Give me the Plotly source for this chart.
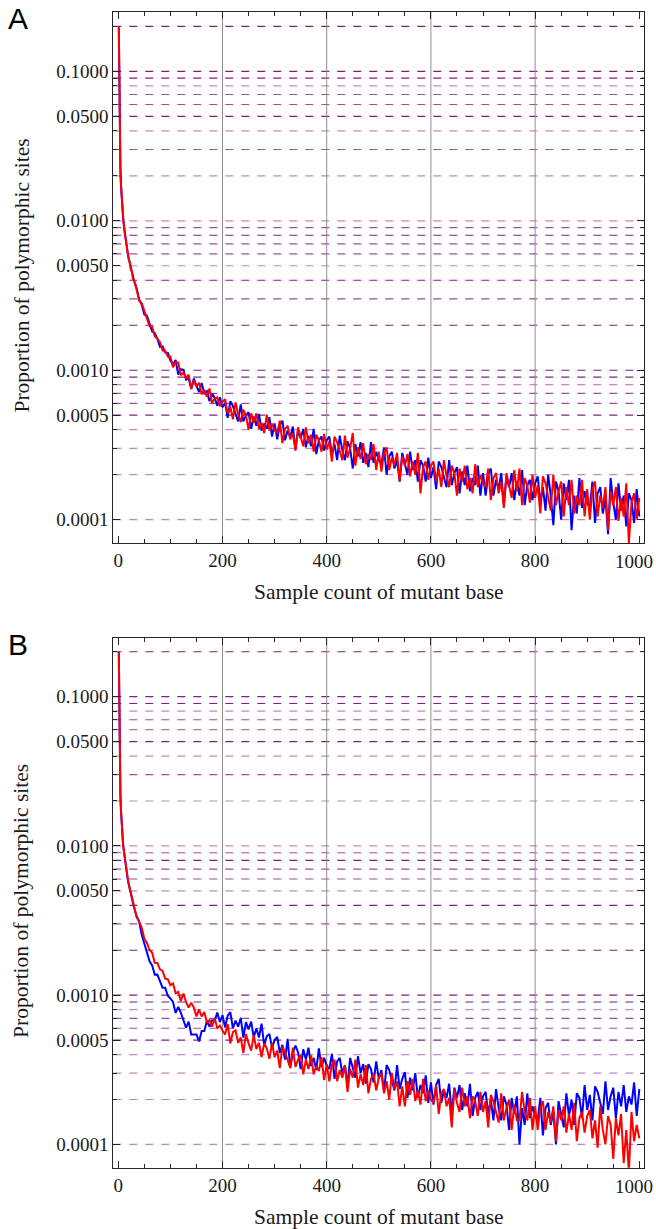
import plotly.graph_objects as go

# ---------------- data ----------------
sample_counts = list(range(1, 11)) + list(range(12, 31, 2)) + list(range(35, 1001, 5))

a_blue = [0.195, 0.052, 0.031, 0.0225, 0.0178, 0.0148, 0.0129, 0.0116, 0.0106, 0.0098,
          0.0085, 0.0075, 0.0067, 0.0061, 0.0056, 0.0052, 0.0048, 0.0045, 0.0042, 0.0040,
          3550e-6, 2980e-6, 2745e-6, 2360e-6, 2315e-6, 2020e-6, 1815e-6, 1775e-6, 1620e-6, 1435e-6, 1445e-6, 1315e-6, 1305e-6, 1160e-6,
          1090e-6, 1170e-6, 935e-6, 1015e-6, 1005e-6, 865e-6, 885e-6, 750e-6, 880e-6, 785e-6, 715e-6, 820e-6, 700e-6, 725e-6, 620e-6, 695e-6, 655e-6, 580e-6, 660e-6, 565e-6,
          605e-6, 480e-6, 620e-6, 575e-6, 510e-6, 455e-6, 590e-6, 455e-6, 500e-6, 525e-6, 405e-6, 490e-6, 425e-6, 510e-6, 395e-6, 440e-6, 405e-6, 485e-6, 360e-6, 440e-6,
          345e-6, 430e-6, 460e-6, 340e-6, 395e-6, 355e-6, 420e-6, 295e-6, 395e-6, 350e-6, 405e-6, 305e-6, 365e-6, 310e-6, 405e-6, 275e-6, 340e-6, 360e-6, 290e-6, 340e-6,
          360e-6, 275e-6, 320e-6, 250e-6, 365e-6, 290e-6, 250e-6, 335e-6, 300e-6, 220e-6, 320e-6, 265e-6, 330e-6, 240e-6, 280e-6, 225e-6, 330e-6, 240e-6, 285e-6, 250e-6,
          235e-6, 305e-6, 200e-6, 265e-6, 285e-6, 220e-6, 250e-6, 180e-6, 280e-6, 230e-6, 200e-6, 285e-6, 215e-6, 250e-6, 180e-6, 250e-6, 230e-6, 180e-6, 260e-6, 190e-6,
          225e-6, 160e-6, 245e-6, 225e-6, 195e-6, 165e-6, 250e-6, 170e-6, 205e-6, 225e-6, 150e-6, 210e-6, 170e-6, 230e-6, 155e-6, 190e-6, 170e-6, 230e-6, 145e-6, 205e-6,
          145e-6, 200e-6, 220e-6, 145e-6, 185e-6, 160e-6, 205e-6, 125e-6, 195e-6, 165e-6, 205e-6, 135e-6, 180e-6, 145e-6, 215e-6, 125e-6, 170e-6, 185e-6, 135e-6, 175e-6,
          195e-6, 130e-6, 165e-6, 115e-6, 200e-6, 145e-6, 92e-6, 180e-6, 155e-6, 100e-6, 175e-6, 135e-6, 185e-6, 85e-6, 145e-6, 110e-6, 190e-6, 120e-6, 155e-6, 130e-6,
          120e-6, 180e-6, 95e-6, 150e-6, 165e-6, 110e-6, 140e-6, 80e-6, 190e-6, 130e-6, 100e-6, 175e-6, 115e-6, 145e-6, 90e-6, 150e-6, 135e-6, 95e-6, 160e-6, 105e-6]

a_red = [0.198, 0.051, 0.0305, 0.0222, 0.0176, 0.0150, 0.0128, 0.0117, 0.0104, 0.0099,
         0.0084, 0.0076, 0.0066, 0.0062, 0.0055, 0.0053, 0.0047, 0.0046, 0.0041, 0.0040,
         3490e-6, 2920e-6, 2810e-6, 2495e-6, 2200e-6, 1965e-6, 1955e-6, 1690e-6, 1620e-6, 1540e-6, 1355e-6, 1350e-6, 1235e-6, 1235e-6,
         1045e-6, 1125e-6, 1125e-6, 925e-6, 965e-6, 885e-6, 935e-6, 755e-6, 855e-6, 780e-6, 825e-6, 690e-6, 740e-6, 665e-6, 755e-6, 600e-6, 650e-6, 660e-6, 575e-6, 615e-6,
         640e-6, 515e-6, 570e-6, 470e-6, 610e-6, 505e-6, 450e-6, 545e-6, 500e-6, 400e-6, 515e-6, 445e-6, 515e-6, 405e-6, 445e-6, 380e-6, 505e-6, 395e-6, 440e-6, 395e-6,
         380e-6, 460e-6, 325e-6, 405e-6, 425e-6, 345e-6, 380e-6, 290e-6, 415e-6, 355e-6, 310e-6, 415e-6, 325e-6, 370e-6, 285e-6, 370e-6, 340e-6, 285e-6, 375e-6, 295e-6,
         335e-6, 245e-6, 360e-6, 330e-6, 290e-6, 250e-6, 365e-6, 260e-6, 300e-6, 380e-6, 230e-6, 305e-6, 255e-6, 325e-6, 235e-6, 275e-6, 250e-6, 320e-6, 215e-6, 285e-6,
         210e-6, 280e-6, 305e-6, 215e-6, 260e-6, 230e-6, 280e-6, 180e-6, 265e-6, 230e-6, 275e-6, 195e-6, 245e-6, 200e-6, 280e-6, 150e-6, 225e-6, 245e-6, 185e-6, 230e-6,
         245e-6, 180e-6, 220e-6, 165e-6, 250e-6, 195e-6, 165e-6, 230e-6, 205e-6, 145e-6, 220e-6, 180e-6, 230e-6, 160e-6, 190e-6, 150e-6, 235e-6, 165e-6, 200e-6, 175e-6,
         165e-6, 220e-6, 135e-6, 190e-6, 205e-6, 150e-6, 180e-6, 120e-6, 205e-6, 165e-6, 140e-6, 215e-6, 155e-6, 220e-6, 125e-6, 190e-6, 170e-6, 130e-6, 200e-6, 140e-6,
         170e-6, 110e-6, 195e-6, 175e-6, 145e-6, 115e-6, 200e-6, 125e-6, 155e-6, 180e-6, 105e-6, 165e-6, 125e-6, 185e-6, 110e-6, 145e-6, 125e-6, 185e-6, 105e-6, 160e-6,
         100e-6, 160e-6, 180e-6, 105e-6, 145e-6, 120e-6, 165e-6, 85e-6, 155e-6, 125e-6, 165e-6, 98e-6, 140e-6, 105e-6, 175e-6, 70e-6, 130e-6, 150e-6, 100e-6, 140e-6]

b_blue = [0.200, 0.051, 0.0308, 0.0223, 0.0176, 0.0147, 0.0129, 0.0116, 0.0104, 0.0097,
          0.0084, 0.0074, 0.0066, 0.0060, 0.0055, 0.0051, 0.0047, 0.0044, 0.0041, 0.0039,
          3390e-6, 3130e-6, 2535e-6, 2225e-6, 1980e-6, 1685e-6, 1580e-6, 1370e-6, 1375e-6, 1235e-6, 1120e-6, 1120e-6, 990e-6, 950e-6,
          900e-6, 760e-6, 835e-6, 765e-6, 680e-6, 605e-6, 665e-6, 545e-6, 545e-6, 545e-6, 490e-6, 575e-6, 575e-6, 670e-6, 615e-6, 680e-6, 675e-6, 765e-6, 660e-6, 735e-6,
          610e-6, 730e-6, 770e-6, 600e-6, 675e-6, 615e-6, 705e-6, 520e-6, 660e-6, 590e-6, 665e-6, 520e-6, 600e-6, 520e-6, 645e-6, 460e-6, 530e-6, 550e-6, 445e-6, 500e-6,
          525e-6, 410e-6, 465e-6, 370e-6, 510e-6, 325e-6, 410e-6, 460e-6, 415e-6, 320e-6, 435e-6, 370e-6, 445e-6, 335e-6, 380e-6, 315e-6, 440e-6, 330e-6, 380e-6, 335e-6,
          320e-6, 405e-6, 275e-6, 360e-6, 380e-6, 300e-6, 340e-6, 250e-6, 380e-6, 320e-6, 280e-6, 390e-6, 300e-6, 345e-6, 255e-6, 345e-6, 320e-6, 260e-6, 360e-6, 275e-6,
          315e-6, 225e-6, 340e-6, 315e-6, 270e-6, 230e-6, 340e-6, 235e-6, 275e-6, 305e-6, 205e-6, 280e-6, 230e-6, 300e-6, 205e-6, 250e-6, 220e-6, 290e-6, 190e-6, 260e-6,
          185e-6, 250e-6, 275e-6, 190e-6, 230e-6, 205e-6, 255e-6, 160e-6, 240e-6, 205e-6, 250e-6, 170e-6, 220e-6, 180e-6, 255e-6, 155e-6, 205e-6, 225e-6, 170e-6, 210e-6,
          225e-6, 160e-6, 200e-6, 145e-6, 235e-6, 175e-6, 145e-6, 210e-6, 185e-6, 125e-6, 205e-6, 160e-6, 210e-6, 100e-6, 175e-6, 135e-6, 220e-6, 150e-6, 180e-6, 155e-6,
          145e-6, 205e-6, 115e-6, 175e-6, 190e-6, 135e-6, 165e-6, 100e-6, 195e-6, 155e-6, 130e-6, 220e-6, 155e-6, 200e-6, 135e-6, 220e-6, 205e-6, 150e-6, 250e-6, 170e-6,
          215e-6, 145e-6, 245e-6, 225e-6, 190e-6, 160e-6, 265e-6, 170e-6, 210e-6, 240e-6, 150e-6, 225e-6, 180e-6, 250e-6, 165e-6, 210e-6, 185e-6, 260e-6, 155e-6, 235e-6]

b_red = [0.196, 0.050, 0.0302, 0.0224, 0.0177, 0.0149, 0.0130, 0.0115, 0.0105, 0.0097,
         0.0085, 0.0075, 0.0067, 0.0061, 0.0056, 0.0052, 0.0048, 0.0045, 0.0042, 0.0039,
         3340e-6, 3105e-6, 2825e-6, 2385e-6, 2240e-6, 2005e-6, 1925e-6, 1650e-6, 1645e-6, 1490e-6, 1455e-6, 1290e-6, 1275e-6, 1165e-6,
         1200e-6, 1030e-6, 1050e-6, 915e-6, 1025e-6, 900e-6, 825e-6, 890e-6, 825e-6, 720e-6, 800e-6, 720e-6, 770e-6, 660e-6, 680e-6, 615e-6, 700e-6, 600e-6, 625e-6, 580e-6,
         545e-6, 640e-6, 475e-6, 565e-6, 580e-6, 480e-6, 520e-6, 410e-6, 550e-6, 475e-6, 425e-6, 540e-6, 435e-6, 480e-6, 385e-6, 475e-6, 440e-6, 375e-6, 475e-6, 385e-6,
         425e-6, 325e-6, 450e-6, 415e-6, 365e-6, 325e-6, 445e-6, 330e-6, 370e-6, 400e-6, 295e-6, 370e-6, 320e-6, 395e-6, 295e-6, 335e-6, 310e-6, 385e-6, 270e-6, 345e-6,
         265e-6, 340e-6, 370e-6, 265e-6, 315e-6, 280e-6, 340e-6, 225e-6, 320e-6, 280e-6, 370e-6, 240e-6, 295e-6, 250e-6, 340e-6, 220e-6, 275e-6, 295e-6, 230e-6, 280e-6,
         300e-6, 220e-6, 265e-6, 200e-6, 300e-6, 235e-6, 265e-6, 180e-6, 245e-6, 180e-6, 265e-6, 215e-6, 275e-6, 195e-6, 230e-6, 185e-6, 275e-6, 195e-6, 230e-6, 200e-6,
         190e-6, 250e-6, 160e-6, 220e-6, 235e-6, 180e-6, 205e-6, 130e-6, 235e-6, 190e-6, 165e-6, 240e-6, 180e-6, 210e-6, 150e-6, 210e-6, 195e-6, 155e-6, 225e-6, 165e-6,
         195e-6, 130e-6, 215e-6, 195e-6, 165e-6, 140e-6, 220e-6, 145e-6, 175e-6, 200e-6, 125e-6, 185e-6, 145e-6, 145e-6, 225e-6, 165e-6, 145e-6, 205e-6, 125e-6, 180e-6,
         125e-6, 175e-6, 195e-6, 125e-6, 165e-6, 140e-6, 180e-6, 105e-6, 170e-6, 145e-6, 180e-6, 120e-6, 160e-6, 125e-6, 190e-6, 105e-6, 150e-6, 165e-6, 120e-6, 155e-6,
         170e-6, 110e-6, 145e-6, 95e-6, 180e-6, 125e-6, 100e-6, 155e-6, 135e-6, 80e-6, 150e-6, 115e-6, 160e-6, 75e-6, 125e-6, 65e-6, 165e-6, 105e-6, 135e-6, 110e-6]

ref_levels = [0.2, 0.1, 0.09, 0.08, 0.07, 0.06, 0.05, 0.04, 0.03, 0.02,
              0.01, 0.009, 0.008, 0.007, 0.006, 0.005, 0.004, 0.003, 0.002,
              0.001, 0.0009, 0.0008, 0.0007, 0.0006, 0.0005, 0.0004, 0.0003, 0.0002, 0.0001]
ref_shades = ["D", "D", "D", "L", "M", "M", "D", "L", "M", "L",
              "L", "M", "D", "M", "M", "L", "D", "M", "D",
              "D", "D", "L", "M", "M", "D", "L", "L", "L", "L"]

ytick_vals = [0.0001, 0.0005, 0.001, 0.005, 0.01, 0.05, 0.1]
ytick_text = ["0.0001", "0.0005", "0.0010", "0.0050", "0.0100", "0.0500", "0.1000"]
ytick_minor = [v for v in ref_levels if v not in ytick_vals]
xtick_vals = [0, 200, 400, 600, 800, 1000]
xtick_text = ["0", "200", "400", "600", "800", "1000"]
grid_x = [200, 400, 600, 800]

x_title = "Sample count of mutant base"
y_title = "Proportion of polymorphic sites"
panel_labels = ["A", "B"]

# ---------------- styling ----------------
W, H = 656, 1229
SERIF = "Liberation Serif"
SANS = "Liberation Sans"
FRAME = "#262626"
TXT = "#1a1a1a"
shade_colors = {"D": "#861a86", "M": "#a64aa6", "L": "#c685c6"}


def px_x(p):
    return p / W


def px_y(p):
    return 1 - p / H


x_dom = [px_x(113.3), px_x(644.0)]
panels = [
    dict(xa="x", ya="y", top=12.3, bottom=543.0, blue=a_blue, red=a_red, label=panel_labels[0]),
    dict(xa="x2", ya="y2", top=637.7, bottom=1167.7, blue=b_blue, red=b_red, label=panel_labels[1]),
]

# the last x label would run past the page edge; it is drawn separately, right-aligned
shown_xtext = xtick_text[:-1] + [""]

fig = go.Figure()
shapes = []
annotations = []
layout_axes = {}

for i, p in enumerate(panels):
    fig.add_trace(go.Scatter(x=sample_counts, y=p["blue"], mode="lines",
                             line=dict(color="#0000ff", width=2),
                             xaxis=p["xa"], yaxis=p["ya"], showlegend=False, hoverinfo="skip"))
    fig.add_trace(go.Scatter(x=sample_counts, y=p["red"], mode="lines",
                             line=dict(color="#ff0000", width=2),
                             xaxis=p["xa"], yaxis=p["ya"], showlegend=False, hoverinfo="skip"))

    for lv, sh in zip(ref_levels, ref_shades):
        shapes.append(dict(type="line", xref=p["xa"] + " domain", yref=p["ya"],
                           x0=0, x1=1, y0=lv, y1=lv, layer="below",
                           line=dict(color=shade_colors[sh], width=1.2, dash="8px,8px")))
    for gx in grid_x:
        shapes.append(dict(type="line", xref=p["xa"], yref=p["ya"] + " domain",
                           x0=gx, x1=gx, y0=0, y1=1, layer="below",
                           line=dict(color="#8f8f8f", width=1)))

    xkey = "xaxis" if i == 0 else "xaxis2"
    ykey = "yaxis" if i == 0 else "yaxis2"
    layout_axes[xkey] = dict(
        domain=x_dom, anchor=p["ya"], range=[-9.6, 1009], automargin=False,
        showline=True, linecolor=FRAME, linewidth=1, mirror="ticks",
        ticks="inside", ticklen=7, tickwidth=1, tickcolor=FRAME,
        tickmode="array", tickvals=xtick_vals, ticktext=shown_xtext,
        minor=dict(ticks="inside", tickmode="linear", tick0=0, dtick=50, ticklen=4,
                   tickwidth=1, tickcolor=FRAME, showgrid=False),
        showgrid=False, zeroline=False,
        tickfont=dict(family=SERIF, size=19, color=TXT),
    )
    layout_axes[ykey] = dict(
        domain=[px_y(p["bottom"]), px_y(p["top"])], anchor=p["xa"], type="log",
        range=[-4.156, -0.605], automargin=False,
        showline=True, linecolor=FRAME, linewidth=1, mirror="ticks",
        ticks="inside", ticklen=7, tickwidth=1, tickcolor=FRAME,
        tickmode="array", tickvals=ytick_vals, ticktext=ytick_text,
        minor=dict(ticks="inside", tickmode="array", tickvals=ytick_minor, ticklen=4,
                   tickwidth=1, tickcolor=FRAME, showgrid=False),
        showgrid=False, zeroline=False,
        tickfont=dict(family=SERIF, size=19, color=TXT),
    )

    off = p["top"] - 12.3
    annotations.append(dict(text=xtick_text[-1], xref="paper", yref="paper",
                            x=px_x(655), y=px_y(561.5 + off), xanchor="right", yanchor="middle",
                            showarrow=False, font=dict(family=SERIF, size=19, color=TXT)))
    annotations.append(dict(text=p["label"], xref="paper", yref="paper",
                            x=px_x(6), y=px_y(19 + off), xanchor="left", yanchor="middle",
                            showarrow=False, font=dict(family=SANS, size=30, color="black")))
    annotations.append(dict(text=x_title, xref="paper", yref="paper",
                            x=px_x(378.7), y=px_y(591.5 + off), xanchor="center", yanchor="middle",
                            showarrow=False, font=dict(family=SERIF, size=21.5, color=TXT)))
    annotations.append(dict(text=y_title, xref="paper", yref="paper", textangle=-90,
                            x=px_x(21), y=px_y(275.5 + off), xanchor="center", yanchor="middle",
                            showarrow=False, font=dict(family=SERIF, size=21.5, color=TXT)))

fig.update_layout(
    width=W, height=H, autosize=False,
    margin=dict(l=0, r=0, t=0, b=0, pad=0, autoexpand=False),
    paper_bgcolor="white", plot_bgcolor="white",
    shapes=shapes, annotations=annotations,
    **layout_axes,
)

fig.write_html("out.html", config={"displayModeBar": False})
